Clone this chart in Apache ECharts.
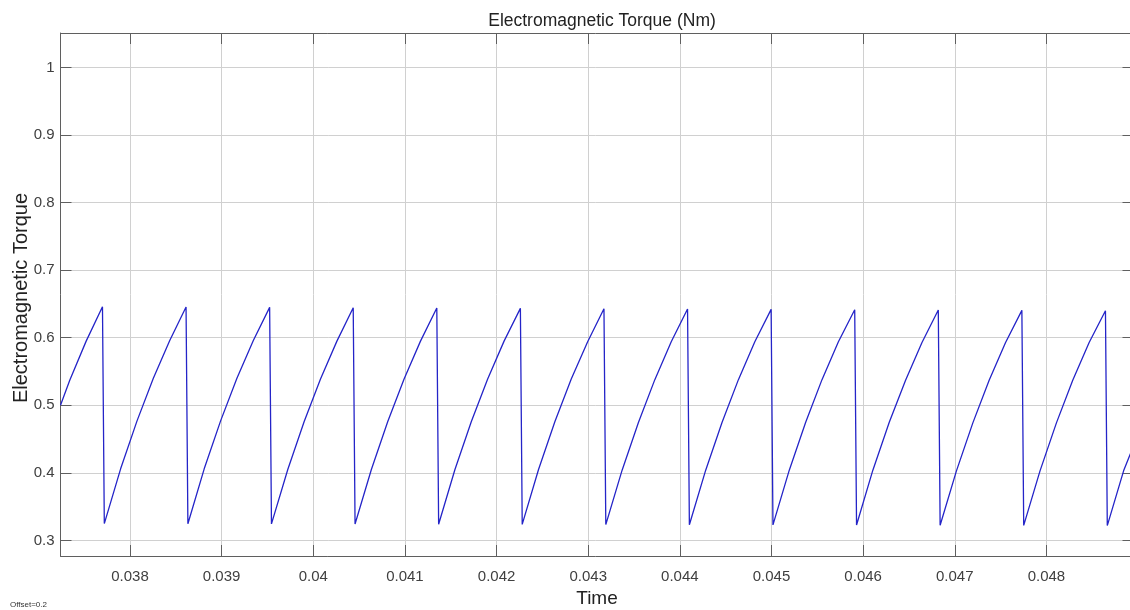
<!DOCTYPE html>
<html>
<head>
<meta charset="utf-8">
<script src="https://cdn.jsdelivr.net/npm/echarts@6/dist/echarts.min.js"></script>
<style>
html,body{margin:0;padding:0;background:#fff;}
#c{width:1130px;height:610px;}
</style>
</head>
<body>
<div id="c"></div>
<script>
const chartTitle = 'Electromagnetic Torque (Nm)';
const xName = 'Time';
const yName = 'Electromagnetic Torque';
const note = 'Offset=0.2';
const xRange = [0.037242, 0.04895];
const yRange = [0.277, 1.051];

// time samples (s)
const time = [
  0.037242, 0.037343, 0.037522, 0.0377,
  0.03772, 0.037898, 0.038077, 0.038255, 0.038434, 0.038612,
  0.038632, 0.03881, 0.038989, 0.039167, 0.039346, 0.039524,
  0.039544, 0.039722, 0.039901, 0.040079, 0.040258, 0.040436,
  0.040456, 0.040634, 0.040813, 0.040991, 0.04117, 0.041348,
  0.041368, 0.041546, 0.041725, 0.041903, 0.042082, 0.04226,
  0.04228, 0.042458, 0.042637, 0.042815, 0.042994, 0.043172,
  0.043192, 0.04337, 0.043549, 0.043727, 0.043906, 0.044084,
  0.044104, 0.044282, 0.044461, 0.044639, 0.044818, 0.044996,
  0.045016, 0.045194, 0.045373, 0.045551, 0.04573, 0.045908,
  0.045928, 0.046106, 0.046285, 0.046463, 0.046642, 0.04682,
  0.04684, 0.047018, 0.047197, 0.047375, 0.047554, 0.047732,
  0.047752, 0.04793, 0.048109, 0.048287, 0.048466, 0.048644,
  0.048664, 0.048842, 0.04895
];
// torque values (Nm)
const torque = [
  0.500, 0.537, 0.595, 0.646,
  0.325, 0.406, 0.477, 0.540, 0.596, 0.6455,
  0.3248, 0.406, 0.477, 0.540, 0.596, 0.645,
  0.3245, 0.405, 0.476, 0.539, 0.595, 0.6445,
  0.3243, 0.405, 0.476, 0.539, 0.595, 0.644,
  0.324, 0.405, 0.476, 0.539, 0.595, 0.6435,
  0.3238, 0.405, 0.476, 0.539, 0.594, 0.643,
  0.3235, 0.404, 0.475, 0.538, 0.594, 0.6425,
  0.3233, 0.404, 0.475, 0.538, 0.594, 0.642,
  0.323, 0.404, 0.475, 0.538, 0.594, 0.6415,
  0.3228, 0.404, 0.475, 0.537, 0.593, 0.641,
  0.3225, 0.403, 0.474, 0.537, 0.593, 0.6405,
  0.3223, 0.403, 0.474, 0.537, 0.593, 0.640,
  0.322, 0.403, 0.44
];

const data = time.map((t, i) => [t, torque[i]]);
const FONT = 'Liberation Sans, Arial, sans-serif';
const axisCol = '#5f5f5f';
const gridCol = '#d0d0d0';
const labelCol = '#404040';

const chart = echarts.init(document.getElementById('c'), null, {renderer: 'canvas'});
chart.setOption({
  animation: false,
  backgroundColor: '#ffffff',
  title: {
    text: chartTitle,
    left: 597, top: 7, textAlign: 'center',
    textStyle: {fontFamily: FONT, fontSize: 17.5, fontWeight: 'normal', color: '#222'}
  },
  grid: {left: 60.5, top: 33, right: -3.5, bottom: 54, containLabel: false, outerBoundsMode: 'none'},
  graphic: [{
    type: 'text', left: 10, top: 601,
    style: {text: note, fontFamily: FONT, fontSize: 8, fill: '#333'}
  }, {
    type: 'text', x: 21, y: 298, rotation: Math.PI / 2,
    style: {text: yName, fontFamily: FONT, fontSize: 20, fill: '#222',
      align: 'center', verticalAlign: 'middle'}
  }],
  xAxis: [{
    type: 'value', min: xRange[0], max: xRange[1], splitNumber: 12,
    name: xName, nameLocation: 'middle', nameGap: 33,
    nameTextStyle: {fontFamily: FONT, fontSize: 19, color: '#222'},
    axisLine: {show: true, lineStyle: {color: axisCol, width: 1}},
    axisTick: {show: true, inside: true, length: 11, lineStyle: {color: axisCol}},
    axisLabel: {showMinLabel: false, showMaxLabel: false, margin: 13,
      fontFamily: FONT, fontSize: 15, color: labelCol},
    splitLine: {show: true, lineStyle: {color: gridCol, width: 1}}
  }, {
    type: 'value', position: 'top', min: xRange[0], max: xRange[1], splitNumber: 12,
    axisLine: {show: true, lineStyle: {color: axisCol, width: 1}},
    axisTick: {show: true, inside: true, length: 11, lineStyle: {color: axisCol}},
    axisLabel: {show: false},
    splitLine: {show: false}
  }],
  yAxis: [{
    type: 'value', min: yRange[0], max: yRange[1], splitNumber: 8,
    axisLine: {show: true, lineStyle: {color: axisCol, width: 1}},
    axisTick: {show: true, inside: true, length: 11, lineStyle: {color: axisCol}},
    axisLabel: {showMinLabel: false, showMaxLabel: false, margin: 6,
      fontFamily: FONT, fontSize: 15, color: labelCol},
    splitLine: {show: true, lineStyle: {color: gridCol, width: 1}}
  }, {
    type: 'value', position: 'right', min: yRange[0], max: yRange[1], splitNumber: 8,
    axisLine: {show: true, lineStyle: {color: axisCol, width: 1}},
    axisTick: {show: true, inside: true, length: 11, lineStyle: {color: axisCol}},
    axisLabel: {show: false},
    splitLine: {show: false}
  }],
  series: [{
    type: 'line', data: data, xAxisIndex: 0, yAxisIndex: 0,
    showSymbol: false, symbol: 'none', smooth: false,
    lineStyle: {color: '#2424c8', width: 1.3},
    clip: true
  }]
});
</script>
</body>
</html>
